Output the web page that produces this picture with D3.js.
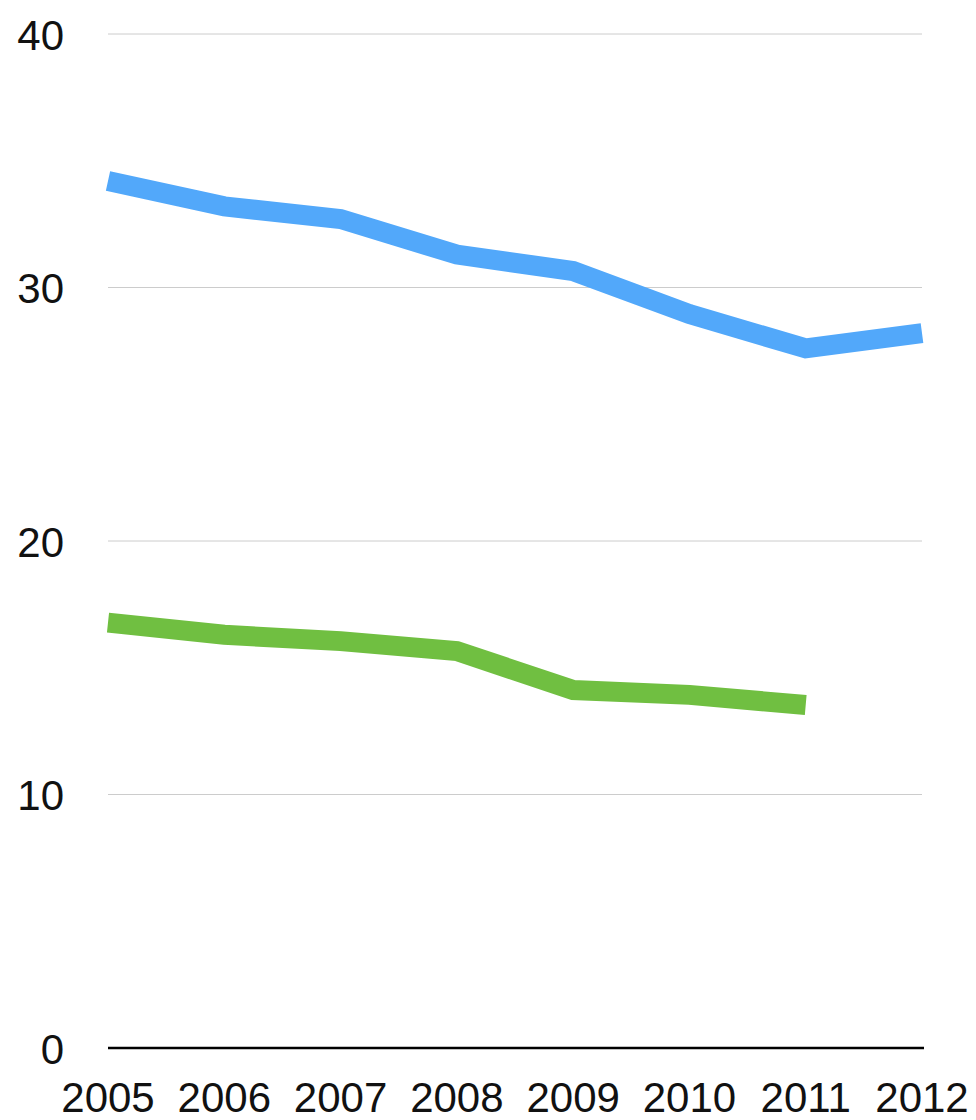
<!DOCTYPE html>
<html>
<head>
<meta charset="utf-8">
<script src="https://cdn.jsdelivr.net/npm/d3@7"></script>
<style>
  body { margin: 0; background: #fff; }
  text { font-family: "Liberation Sans", sans-serif; fill: #111; }
</style>
</head>
<body>
<div id="chart"></div>
<script>
// data
var years = [2005, 2006, 2007, 2008, 2009, 2010, 2011, 2012]
var blueValues = [34.2, 33.2, 32.7, 31.3, 30.65, 28.95, 27.6, 28.2]
var greenValues = [16.78, 16.3, 16.05, 15.66, 14.12, 13.93, 13.53]
var yTicks = [0, 10, 20, 30, 40]

var width = 976, height = 1120
var margin = { top: 34, right: 54, bottom: 72, left: 108 }

var svg = d3.select("#chart")
    .append("svg")
    .attr("width", width)
    .attr("height", height)

var x = d3.scalePoint()
    .domain(years)
    .range([margin.left, width - margin.right])

var y = d3.scaleLinear()
    .domain([0, 40])
    .range([height - margin.bottom, margin.top])

// grid lines
svg.append("g")
    .selectAll("line")
    .data(yTicks.filter(d => d > 0))
    .enter()
    .append("line")
    .attr("x1", margin.left)
    .attr("x2", width - margin.right)
    .attr("y1", d => y(d))
    .attr("y2", d => y(d))
    .style("stroke", "#cccccc")
    .style("stroke-width", 1)

// y labels
svg.append("g")
    .selectAll("text")
    .data(yTicks)
    .enter()
    .append("text")
    .attr("x", 64)
    .attr("y", d => y(d))
    .attr("dy", "0.38em")
    .style("text-anchor", "end")
    .style("font-size", "42px")
    .text(d => d)

// x axis line
svg.append("line")
    .attr("x1", margin.left)
    .attr("x2", width - margin.right + 2)
    .attr("y1", y(0))
    .attr("y2", y(0))
    .style("stroke", "#000")
    .style("stroke-width", 2.5)

// x labels
svg.append("g")
    .selectAll("text")
    .data(years)
    .enter()
    .append("text")
    .attr("x", d => x(d))
    .attr("y", 1112)
    .style("text-anchor", "middle")
    .style("font-size", "42px")
    .text(d => d)

var line = d3.line()
    .x(d => x(d.year))
    .y(d => y(d.value))

var series = [
    { color: "#52a8fa", values: blueValues },
    { color: "#70bf41", values: greenValues }
]

series.forEach(function(s) {
    svg.append("path")
        .datum(s.values.map((v, i) => ({ year: years[i], value: v })))
        .attr("d", line)
        .style("fill", "none")
        .style("stroke", s.color)
        .style("stroke-width", 20)
        .style("stroke-linejoin", "miter")
        .style("stroke-linecap", "butt")
})
</script>
</body>
</html>
